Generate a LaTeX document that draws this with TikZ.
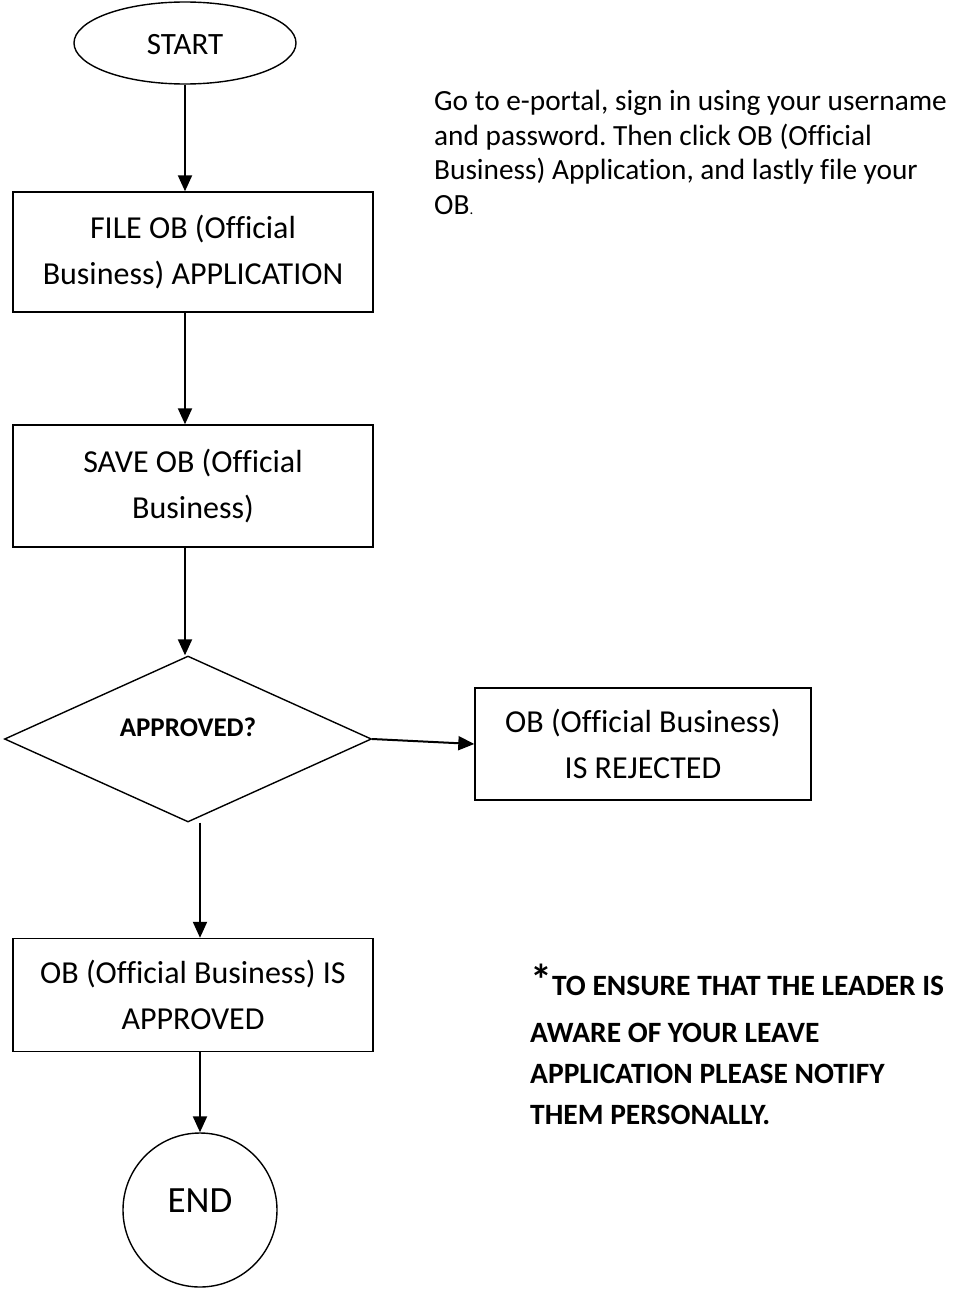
\documentclass[tikz,border=0pt]{standalone}
\usepackage{fontspec}
\setmainfont{Carlito}[Ligatures=NoCommon]
\frenchspacing
\usetikzlibrary{shapes.geometric,arrows.meta}
\tikzset{stepbox/.style={draw,rectangle,line width=1.4pt,minimum width=360,minimum height=120,
        align=center,font=\fontsize{32}{46}\selectfont}}
\tikzset{terminal/.style={draw,ellipse,line width=1.4pt,minimum width=222,minimum height=82,
        inner sep=0pt,font=\fontsize{31}{34}\selectfont}}
\tikzset{decision/.style={draw,diamond,line width=1.4pt,minimum width=367,minimum height=166,
        inner sep=0pt,font=\bfseries\fontsize{27}{30}\selectfont}}
\tikzset{endstate/.style={draw,circle,line width=1.4pt,minimum size=154,inner sep=0pt,
        font=\fontsize{37}{40}\selectfont}}
\tikzset{flow/.style={line width=2pt,-{Triangle[length=16pt,width=14pt]}}}

\begin{document}
\begin{tikzpicture}[x=1pt,y=-1pt]
    \useasboundingbox (0,0) rectangle (953,1290);
    % flow chart
    \node[terminal] (start) at (185,43) {\raisebox{-12pt}[0pt][0pt]{START}};
    \node[stepbox] (file) at (193,252) {FILE OB (Official\\Business) APPLICATION};
    \node[stepbox,minimum height=122] (save) at (193,486) {SAVE OB (Official\\Business)};
    \node[decision] (check) at (188,739) {\raisebox{3pt}[0pt][0pt]{APPROVED?}};
    \node[stepbox,minimum width=336,minimum height=112] (rejected) at (643,744) {OB (Official Business)\\IS REJECTED};
    \node[stepbox,minimum height=113] (approved) at (193,995) {OB (Official Business) IS\\APPROVED};
    \node[endstate] (finish) at (200,1210) {\raisebox{-2pt}[0pt][0pt]{END}};
    % side texts
    \node[anchor=north west,inner sep=0pt,align=left,font=\fontsize{29.3}{34.5}\selectfont] (howto) at (434,90)
        {Go to e-portal, sign in using your username\\and password. Then click OB (Official\\Business) Application, and lastly file your\\OB{\fontsize{15}{15}\selectfont.}};
    \node[anchor=north west,inner sep=0pt,align=left,font=\bfseries\fontsize{29.5}{41}\selectfont] (reminder) at (530,964)
        {{\fontsize{44}{44}\selectfont *}TO ENSURE THAT THE LEADER IS\\[6pt]AWARE OF YOUR LEAVE\\APPLICATION PLEASE NOTIFY\\THEM PERSONALLY.};
    % arrows
    \draw[flow] (start) -- (start |- file.north);
    \draw[flow] (start |- file.south) -- (start |- save.north);
    \draw[flow] (start |- save.south) -- (start |- check.north);
    \draw[flow] (check.east) -- (rejected.west);
    \draw[flow] (finish |- check.south) -- (finish |- approved.north);
    \draw[flow] (finish |- approved.south) -- (finish.north);
\end{tikzpicture}
\end{document}
